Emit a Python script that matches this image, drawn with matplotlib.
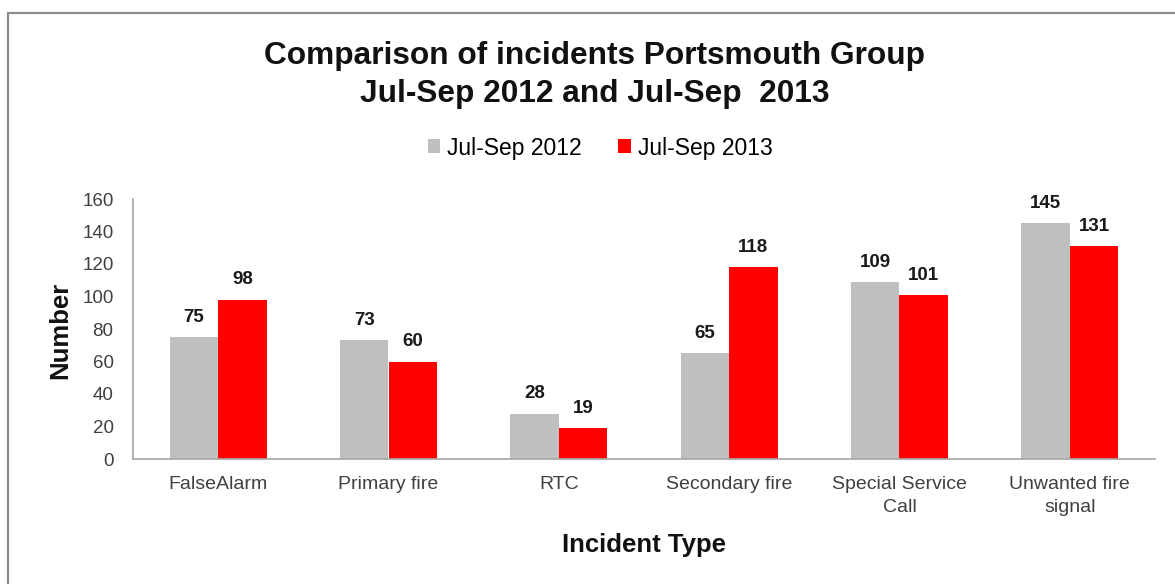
import matplotlib
matplotlib.use("Agg")
import matplotlib.pyplot as plt
import numpy as np
from matplotlib.patches import Rectangle

categories = ["FalseAlarm", "Primary fire", "RTC", "Secondary fire", "Special Service\nCall", "Unwanted fire\nsignal"]
series_names = ["Jul-Sep 2012", "Jul-Sep 2013"]
values_2012 = [75, 73, 28, 65, 109, 145]
values_2013 = [98, 60, 19, 118, 101, 131]
yticks = [0, 20, 40, 60, 80, 100, 120, 140, 160]

plt.rcParams['font.family'] = ['Liberation Sans', 'DejaVu Sans']

W, H = 1175, 584
fig = plt.figure(figsize=(W / 100, H / 100), dpi=100)
fig.patch.set_facecolor("white")

# outer frame
fig.patches.append(Rectangle((8 / W, -0.1), 1.2, 1 - 13 / H + 0.1, transform=fig.transFigure,
                             fill=False, edgecolor="#8c8c8c", linewidth=1.6))

ax = fig.add_axes([133 / W, (H - 459) / H, (1155 - 133) / W, (459 - 199) / H])
x = np.arange(len(categories))
bw = 0.285
b1 = ax.bar(x - bw / 2, values_2012, bw, color="#bfbfbf", label=series_names[0])
b2 = ax.bar(x + bw / 2, values_2013, bw, color="#ff0000", label=series_names[1])

for bars, vals in ((b1, values_2012), (b2, values_2013)):
    for r, v in zip(bars, vals):
        ax.annotate(str(v), (r.get_x() + r.get_width() / 2, v), xytext=(0, 11),
                    textcoords="offset points", ha="center", va="baseline",
                    fontsize=13.5, fontweight="bold", color="#1a1a1a")

ax.set_xlim(-0.5, len(categories) - 0.5)
ax.set_ylim(0, 160)
ax.set_yticks(yticks)
ax.set_xticks(x)
ax.set_xticklabels(categories, fontsize=14, color="#404040", linespacing=1.45)
ax.tick_params(axis="y", labelsize=13.5, labelcolor="#404040", length=0, pad=14)
ax.tick_params(axis="x", length=0, pad=12)
for s in ("top", "right"):
    ax.spines[s].set_visible(False)
for s in ("left", "bottom"):
    ax.spines[s].set_color("#a6a6a6")
    ax.spines[s].set_linewidth(1.2)

fig.text(60 / W, (H - 330) / H, "Number", rotation=90, ha="center", va="center",
         fontsize=18.5, fontweight="bold", color="#111111")
fig.text(644 / W, (H - 552) / H, "Incident Type", ha="center", va="baseline",
         fontsize=18.5, fontweight="bold", color="#111111")

fig.text(595 / W, (H - 64) / H, "Comparison of incidents Portsmouth Group", ha="center", va="baseline",
         fontsize=22.8, fontweight="bold", color="#111111")
fig.text(595 / W, (H - 102) / H, "Jul-Sep 2012 and Jul-Sep  2013", ha="center", va="baseline",
         fontsize=22.8, fontweight="bold", color="#111111")

leg = fig.legend(handles=[b1, b2], labels=series_names, loc="center", bbox_to_anchor=(600 / W, (H - 148) / H),
                 ncol=2, frameon=False, fontsize=16.5, handlelength=0.55, handleheight=0.55,
                 handletextpad=0.3, columnspacing=1.6)

fig.savefig("out.png", dpi=100)
